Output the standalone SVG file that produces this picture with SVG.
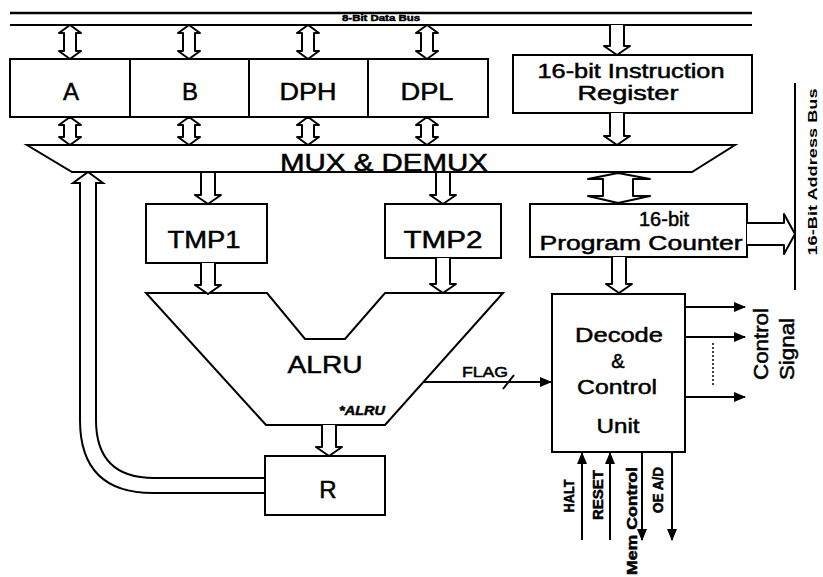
<svg xmlns="http://www.w3.org/2000/svg" xmlns:xlink="http://www.w3.org/1999/xlink" width="823" height="577" viewBox="0 0 823 577">
<style>
.box{fill:#fff;stroke:#000;stroke-width:2}
.ln{fill:none;stroke:#000;stroke-width:2}
.ha{fill:#fff;stroke:#000;stroke-width:2;stroke-linejoin:round}
.t{font-family:"Liberation Sans",Arial,Helvetica,sans-serif;fill:#000;text-anchor:middle;stroke:#000;stroke-width:0.5}
.lg{font-size:24px}
.mm{font-size:20px}
.md{font-size:14px}
.sm{font-size:12px;font-weight:bold;stroke-width:0}
</style>
<defs>
<marker id="ah" viewBox="0 0 12 10" refX="11" refY="5" markerWidth="12" markerHeight="10" markerUnits="userSpaceOnUse" orient="auto">
<path d="M0,0 L12,5 L0,10 Z" fill="#000"/>
</marker>
<path id="bi34" d="M0,0 L11,8 L6,8 L6,26 L11,26 L0,34 L-11,26 L-6,26 L-6,8 L-11,8 Z"/>
<path id="bi28" d="M0,0 L11,8 L6,8 L6,20 L11,20 L0,28 L-11,20 L-6,20 L-6,8 L-11,8 Z"/>
<path id="dn31" d="M-7,0 L-7,22 L-13,22 L0,31 L13,22 L7,22 L7,0"/>
</defs>
<rect width="823" height="577" fill="#fff"/>

<g id="data-bus">
<line x1="10" y1="13" x2="752" y2="13" stroke="#000" stroke-width="2.5"/>
<line x1="10" y1="25" x2="752" y2="25" stroke="#000" stroke-width="2"/>
<text class="t" x="381" y="21" font-size="9" font-weight="bold" stroke-width="0" textLength="78" lengthAdjust="spacingAndGlyphs">8-Bit Data Bus</text>
</g>

<g id="reg-A"><rect class="box" x="10" y="59" width="120" height="58"/><text class="t lg" x="71" y="100">A</text></g>
<g id="reg-B"><rect class="box" x="130" y="59" width="119" height="58"/><text class="t lg" x="190" y="100">B</text></g>
<g id="reg-DPH"><rect class="box" x="249" y="59" width="119" height="58"/><text class="t lg" x="308" y="100" textLength="57" lengthAdjust="spacingAndGlyphs">DPH</text></g>
<g id="reg-DPL"><rect class="box" x="368" y="59" width="120" height="58"/><text class="t lg" x="427" y="100" textLength="53" lengthAdjust="spacingAndGlyphs">DPL</text></g>

<g id="instr-reg"><rect class="box" x="513" y="55" width="239" height="58"/>
<text class="t mm" x="631" y="78" textLength="187" lengthAdjust="spacingAndGlyphs">16-bit Instruction</text>
<text class="t mm" x="628" y="100" textLength="101" lengthAdjust="spacingAndGlyphs">Register</text></g>

<g id="mux"><path class="box" d="M27,145 L735,145 L692,172 L72,172 Z"/>
<text class="t lg" x="384" y="171" textLength="208" lengthAdjust="spacingAndGlyphs">MUX &amp; DEMUX</text></g>

<g id="tmp1"><rect class="box" x="146" y="204" width="121" height="59"/><text class="t lg" x="204" y="248" textLength="73" lengthAdjust="spacingAndGlyphs">TMP1</text></g>
<g id="tmp2"><rect class="box" x="385" y="204" width="116" height="54"/><text class="t lg" x="443" y="248" textLength="79" lengthAdjust="spacingAndGlyphs">TMP2</text></g>

<g id="pc"><rect class="box" x="530" y="204" width="217" height="53"/>
<text class="t mm" x="664" y="226" textLength="50" lengthAdjust="spacingAndGlyphs">16-bit</text>
<text class="t mm" x="641" y="250" textLength="203" lengthAdjust="spacingAndGlyphs">Program Counter</text></g>

<g id="alru"><path class="box" d="M146,293 L267,293 L305,339 L345,339 L385,293 L503,293 L385,425 L266,425 Z"/>
<text class="t lg" x="325" y="373" textLength="75" lengthAdjust="spacingAndGlyphs">ALRU</text>
<text class="t" x="362" y="415" font-size="13" font-style="italic" font-weight="bold" stroke-width="0" textLength="46" lengthAdjust="spacingAndGlyphs">*ALRU</text></g>

<g id="reg-R"><rect class="box" x="265" y="456" width="120" height="59"/><text class="t lg" x="328" y="498">R</text></g>

<g id="decode"><rect class="box" x="552" y="294" width="133" height="158"/>
<text class="t" font-size="21" x="619" y="342" textLength="88" lengthAdjust="spacingAndGlyphs">Decode</text>
<text class="t" font-size="20" x="618" y="368">&amp;</text>
<text class="t" font-size="21" x="617" y="394" textLength="80" lengthAdjust="spacingAndGlyphs">Control</text>
<text class="t" font-size="21" x="618" y="433" textLength="43" lengthAdjust="spacingAndGlyphs">Unit</text></g>

<g id="address-bus">
<line x1="795" y1="83" x2="795" y2="290" stroke="#000" stroke-width="2"/>
<text class="t sm" transform="translate(817,172) rotate(-90)" textLength="167" lengthAdjust="spacingAndGlyphs">16-Bit Address Bus</text>
</g>

<g id="control-signal-label">
<text class="t" font-size="20" transform="translate(768,344) rotate(-90)" textLength="72" lengthAdjust="spacingAndGlyphs">Control</text>
<text class="t" font-size="20" transform="translate(794,349) rotate(-90)" textLength="62" lengthAdjust="spacingAndGlyphs">Signal</text>
</g>

<g id="connectors">
<use href="#bi34" x="70" y="25" class="ha"/>
<use href="#bi34" x="189" y="25" class="ha"/>
<use href="#bi34" x="308" y="25" class="ha"/>
<use href="#bi34" x="427" y="25" class="ha"/>
<use href="#bi28" x="70" y="117" class="ha"/>
<use href="#bi28" x="189" y="117" class="ha"/>
<use href="#bi28" x="308" y="117" class="ha"/>
<use href="#bi28" x="427" y="117" class="ha"/>
<path class="ha" d="M610,25 L610,46 L604,46 L617,55 L630,46 L624,46 L624,25"/>
<path class="ha" d="M610,113 L610,136 L604,136 L617,145 L630,136 L624,136 L624,113"/>
<use href="#dn31" x="208" y="173" class="ha"/>
<use href="#dn31" x="443" y="173" class="ha"/>
<use href="#dn31" x="208" y="263" class="ha"/>
<path class="ha" d="M436,258 L436,284 L430,284 L443,293 L456,284 L450,284 L450,258"/>
<path class="ha" d="M612,257 L612,284 L606,284 L619,293 L632,284 L626,284 L626,257"/>
<use href="#dn31" x="329" y="425" class="ha"/>
<path class="ha" d="M618,173 L650,179 L633,179 L633,196 L650,196 L618,203 L588,196 L603,196 L603,179 L588,179 Z"/>
<path class="ha" d="M747,223 L784,223 L784,214 L795,234 L784,254 L784,245 L747,245"/>
<path class="ln" d="M265,493 L153,493 Q80,493 80,420 L80,183 L73,183 L88,172 L103,183 L96,183 L96,420 Q96,478 154,478 L265,478"/>
<line class="ln" x1="423" y1="382" x2="551" y2="382" marker-end="url(#ah)"/>
<line class="ln" x1="503" y1="389" x2="514" y2="375"/>
<text class="t md" x="485" y="377" stroke-width="0.3" textLength="46" lengthAdjust="spacingAndGlyphs">FLAG</text>
<line class="ln" x1="685" y1="307" x2="745" y2="307" marker-end="url(#ah)"/>
<line class="ln" x1="685" y1="337" x2="745" y2="337" marker-end="url(#ah)"/>
<line class="ln" x1="685" y1="397" x2="745" y2="397" marker-end="url(#ah)"/>
<line x1="713" y1="343" x2="713" y2="386" stroke="#000" stroke-width="1.5" stroke-dasharray="2,2"/>
<line class="ln" x1="582" y1="540" x2="582" y2="453" marker-end="url(#ah)"/>
<line class="ln" x1="610" y1="540" x2="610" y2="453" marker-end="url(#ah)"/>
<line class="ln" x1="642" y1="452" x2="642" y2="540" marker-end="url(#ah)"/>
<line class="ln" x1="672" y1="452" x2="672" y2="540" marker-end="url(#ah)"/>
<text class="t" font-size="14" font-weight="bold" stroke-width="0" transform="translate(574,496) rotate(-90)" textLength="33" lengthAdjust="spacingAndGlyphs">HALT</text>
<text class="t" font-size="14" font-weight="bold" stroke-width="0" transform="translate(603,495) rotate(-90)" textLength="50" lengthAdjust="spacingAndGlyphs">RESET</text>
<text class="t" font-size="14" font-weight="bold" stroke-width="0" transform="translate(637,521) rotate(-90)" textLength="108" lengthAdjust="spacingAndGlyphs">Mem Control</text>
<text class="t" font-size="14" font-weight="bold" stroke-width="0" transform="translate(663,490) rotate(-90)" textLength="46" lengthAdjust="spacingAndGlyphs">OE A/D</text>
</g>
</svg>
